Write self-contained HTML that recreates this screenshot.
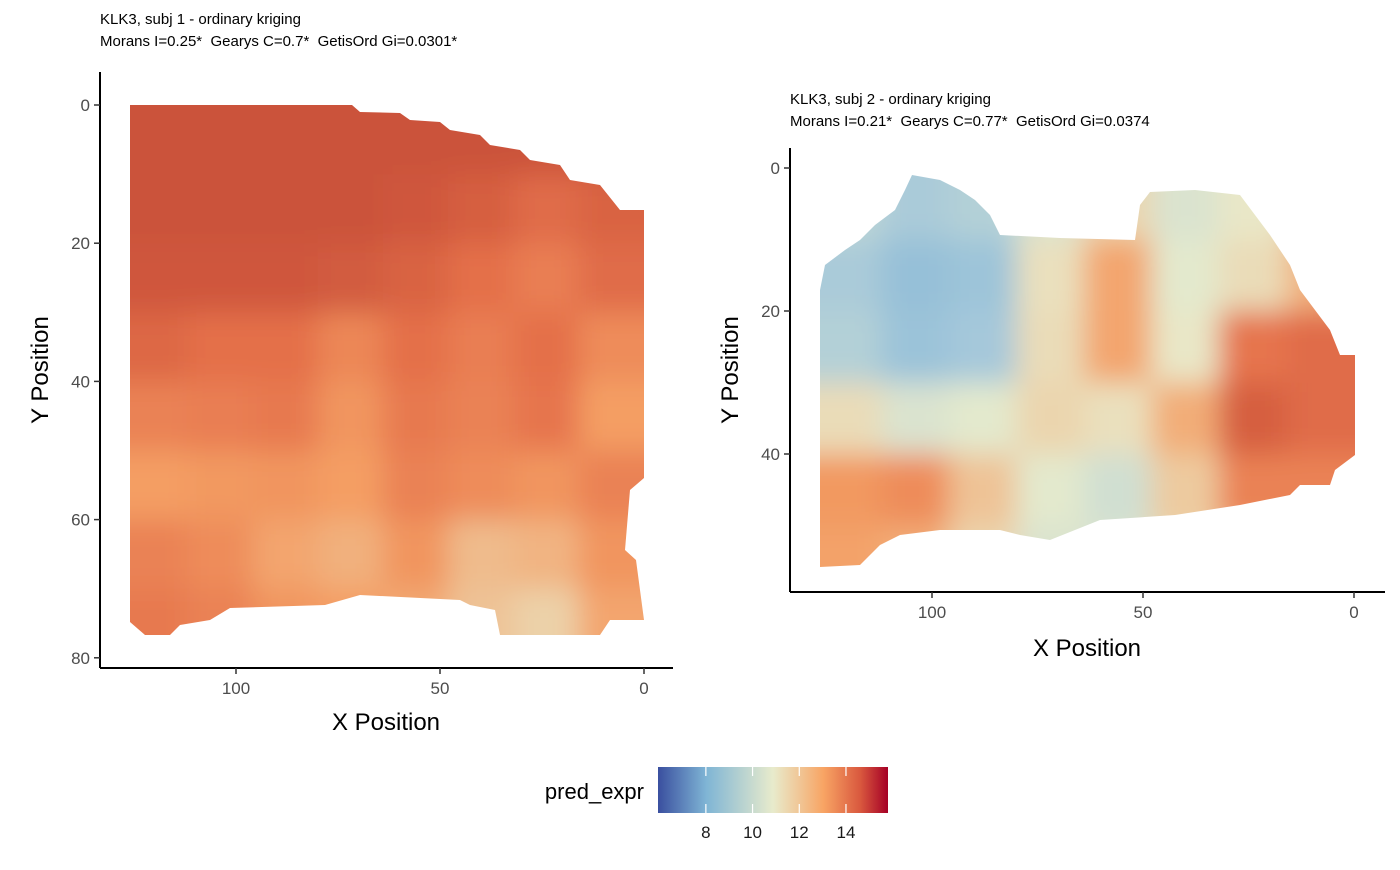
<!DOCTYPE html>
<html><head><meta charset="utf-8">
<style>
body{margin:0;background:#fff;}
svg text{font-family:"Liberation Sans",Arial,sans-serif;white-space:pre;}
</style></head>
<body>
<svg id="chart" width="1400" height="865" viewBox="0 0 1400 865" xmlns="http://www.w3.org/2000/svg" xml:space="preserve">
<defs>
<filter id="blur1" x="-10%" y="-10%" width="120%" height="120%"><feGaussianBlur stdDeviation="14"/></filter>
<filter id="blur2" x="-10%" y="-10%" width="120%" height="120%"><feGaussianBlur stdDeviation="14"/></filter>
<clipPath id="clip1"><polygon points="130,105 352,105 360,112 400,113 410,120 440,122 450,130 480,135 490,145 520,150 530,160 560,165 570,180 600,185 612,200 620,210 644,210 644,478 630,490 625,550 636,560 640,590 644,620 610,620 600,635 500,635 495,610 470,605 460,600 360,595 325,605 230,608 210,620 180,625 170,635 145,635 130,622"/></clipPath>
<clipPath id="clip2"><polygon points="820,290 825,265 845,250 860,240 875,225 895,210 905,190 912,175 940,180 960,190 975,200 990,215 1000,235 1060,238 1135,240 1140,205 1150,192 1195,190 1240,195 1270,235 1290,265 1300,290 1330,330 1340,355 1355,355 1355,455 1335,470 1330,485 1300,485 1290,495 1240,505 1175,515 1100,520 1050,540 1020,535 1000,530 940,530 900,535 880,545 860,565 820,567"/></clipPath>
<linearGradient id="legend-grad" x1="0" x2="1" y1="0" y2="0">
<stop offset="0" stop-color="#3a4f9f"/><stop offset="0.21" stop-color="#7fb5d5"/><stop offset="0.5" stop-color="#e8ebcc"/><stop offset="0.72" stop-color="#f8a464"/><stop offset="0.88" stop-color="#d9583e"/><stop offset="1" stop-color="#a50026"/>
</linearGradient>
</defs>

<g>
<text x="100" y="24" font-size="15">KLK3, subj 1 - ordinary kriging</text>
<text x="100" y="46" font-size="15">Morans I=0.25*  Gearys C=0.7*  GetisOrd Gi=0.0301*</text>
<g clip-path="url(#clip1)"><g id="heat1" filter="url(#blur1)"></g></g>
<g id="axes1"></g>
<text x="386" y="730" font-size="24" text-anchor="middle">X Position</text>
<text transform="translate(48,370) rotate(-90)" font-size="24" text-anchor="middle">Y Position</text>
</g>

<g>
<text x="790" y="104" font-size="15">KLK3, subj 2 - ordinary kriging</text>
<text x="790" y="126" font-size="15">Morans I=0.21*  Gearys C=0.77*  GetisOrd Gi=0.0374</text>
<g clip-path="url(#clip2)"><g id="heat2" filter="url(#blur2)"></g></g>
<g id="axes2"></g>
<text x="1087" y="656" font-size="24" text-anchor="middle">X Position</text>
<text transform="translate(738,370) rotate(-90)" font-size="24" text-anchor="middle">Y Position</text>
</g>

<g>
<text x="644" y="799" font-size="22" text-anchor="end">pred_expr</text>
<rect x="658" y="767" width="230" height="46" fill="url(#legend-grad)"/>
<g id="legendticks"></g>
</g>
</svg>
<script>
// ---- data ----
const p1X = [120, 104, 88, 72, 56, 40, 24, 8];
const p1Y = [5, 15, 25, 35, 45, 55, 65, 75];
const p1Values = [
 [14.7,14.7,14.7,14.7,14.7,14.7,14.7,14.7],
 [14.7,14.7,14.7,14.7,14.6,14.4,14.1,14.3],
 [14.6,14.6,14.6,14.5,14.3,14.0,13.7,14.1],
 [14.2,14.0,14.0,13.5,14.0,13.7,14.0,13.4],
 [13.6,13.7,13.8,13.2,13.8,13.6,13.9,13.0],
 [13.0,13.1,13.2,13.0,13.6,13.4,13.2,13.6],
 [13.6,13.4,12.8,12.5,13.2,12.2,12.4,13.2],
 [13.8,13.6,13.2,13.0,12.7,12.0,11.6,12.8]
];
const p2X = [120, 104, 88, 72, 56, 40, 24, 8];
const p2Y = [5, 15, 25, 35, 45, 55];
const p2Values = [
 [10.0,9.6,9.8,10.6,11.5,10.6,11.0,12.0],
 [9.6,8.9,9.2,11.2,12.8,10.8,11.3,12.5],
 [9.8,9.1,9.5,11.3,12.8,11.0,13.9,14.1],
 [11.3,10.6,10.8,11.5,11.2,12.6,14.4,14.1],
 [13.1,13.4,12.0,10.8,10.4,11.8,13.6,13.6],
 [12.9,12.6,11.5,10.6,10.6,11.5,12.6,12.6]
];
const p1XTicks = [100, 50, 0];
const p1YTicks = [0, 20, 40, 60, 80];
const p2XTicks = [100, 50, 0];
const p2YTicks = [0, 20, 40];
const legendTicks = [8, 10, 12, 14];

// ---- scales ----
const sx1 = v => 644 - v * 4.08, sy1 = v => 105 + v * 6.91;
const sx2 = v => 1354 - v * 4.22, sy2 = v => 168 + v * 7.15;
const sl = v => 658 + (v - 5.95) * 23.35;
const stops = [[5.95,[58,79,159]],[8,[127,181,213]],[9.5,[165,200,218]],[10.9,[232,235,204]],[13,[244,158,100]],[14,[228,112,74]],[14.7,[203,82,58]],[15.8,[165,0,38]]];
function color(v){
  for(let i=0;i<stops.length-1;i++){
    const [a,ca]=stops[i],[b,cb]=stops[i+1];
    if(v<=b||i===stops.length-2){const t=Math.max(0,Math.min(1,(v-a)/(b-a)));
      return 'rgb('+ca.map((c,k)=>Math.round(c+(cb[k]-c)*t)).join(',')+')';}
  }
}
const NS='http://www.w3.org/2000/svg';
function mk(tag, attrs, parent){const e=document.createElementNS(NS,tag);for(const k in attrs)e.setAttribute(k,attrs[k]);parent.appendChild(e);return e;}

function drawHeat(gid, xs, ys, vals, sx, sy){
  const g=document.getElementById(gid);
  const dx=Math.abs(sx(xs[0])-sx(xs[1])), dy=Math.abs(sy(ys[1])-sy(ys[0]));
  ys.forEach((yv,r)=>xs.forEach((xv,c)=>{
    let x0=sx(xv)-dx/2, y0=sy(yv)-dy/2, w=dx, h=dy;
    if(c===0){x0-=40;w+=40;} if(c===xs.length-1){w+=40;}
    if(r===0){y0-=40;h+=40;} if(r===ys.length-1){h+=40;}
    const e=mk('rect',{x:x0,y:y0,width:w+1,height:h+1,fill:color(vals[r][c])},g);
    
    
  }));
}
drawHeat('heat1',p1X,p1Y,p1Values,sx1,sy1);
drawHeat('heat2',p2X,p2Y,p2Values,sx2,sy2);

function drawAxes(gid, sx, sy, xt, yt, left, bottom, top, right){
  const g=document.getElementById(gid);
  const yl=mk('line',{x1:left,x2:left,y1:top,y2:bottom,stroke:'#000','stroke-width':2},g);
  
  
  const xl=mk('line',{x1:left,x2:right,y1:bottom,y2:bottom,stroke:'#000','stroke-width':2},g);
  
  
  xt.forEach(v=>{
    const x=sx(v);
    mk('line',{x1:x,x2:x,y1:bottom,y2:bottom+6,stroke:'#333','stroke-width':1.5},g);
    const t=mk('text',{x:x,y:bottom+26,'font-size':17,fill:'#4d4d4d','text-anchor':'middle'},g);
    t.textContent=v;
    
    
  });
  yt.forEach(v=>{
    const y=sy(v);
    mk('line',{x1:left-6,x2:left,y1:y,y2:y,stroke:'#333','stroke-width':1.5},g);
    const t=mk('text',{x:left-10,y:y+6,'font-size':17,fill:'#4d4d4d','text-anchor':'end'},g);
    t.textContent=v;
    
    
  });
}
drawAxes('axes1',sx1,sy1,p1XTicks,p1YTicks,100,668,72,673);
drawAxes('axes2',sx2,sy2,p2XTicks,p2YTicks,790,592,148,1385);

const lg=document.getElementById('legendticks');
legendTicks.forEach(v=>{
  const x=sl(v);
  mk('line',{x1:x,x2:x,y1:767,y2:776,stroke:'#fff','stroke-width':1.2},lg);
  mk('line',{x1:x,x2:x,y1:804,y2:813,stroke:'#fff','stroke-width':1.2},lg);
  const t=mk('text',{x:x,y:838,'font-size':17,fill:'#1a1a1a','text-anchor':'middle'},lg);
  t.textContent=v;
  
  
});
</script>
</body></html>
